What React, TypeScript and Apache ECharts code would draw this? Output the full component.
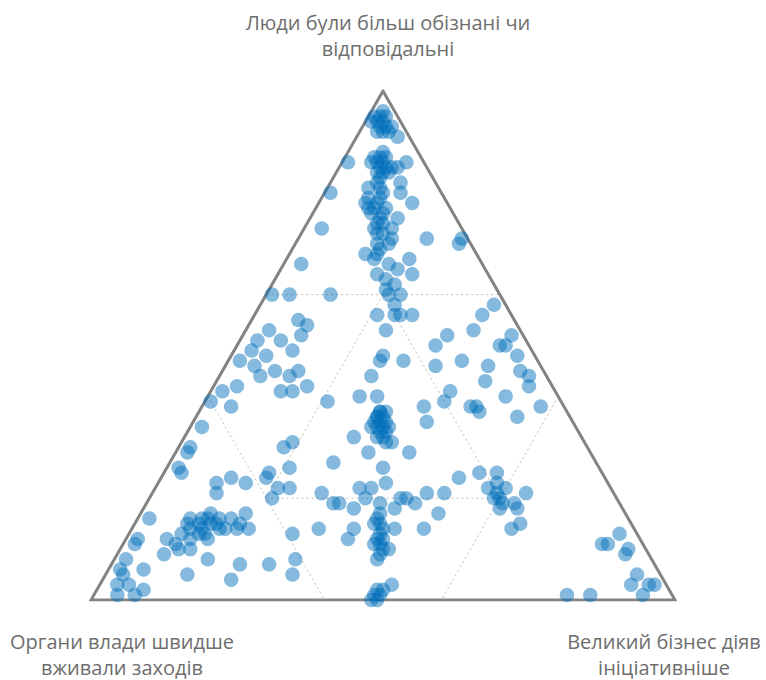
import React, { useEffect, useRef } from "react";
import * as echarts from "echarts";

// Vertex titles (top, bottom-left, bottom-right)
const vertexTitles = [
  "Люди були більш обізнані чи\nвідповідальні",
  "Органи влади швидше\nвживали заходів",
  "Великий бізнес діяв\nініціативніше",
];

// Share (%) pointing to the top vertex: people were more aware / responsible
const peopleAware = [
  95, 95, 94, 94, 93, 92, 92, 91, 87, 88, 86, 86, 85, 85, 84, 84, 86, 86, 80, 73,
  66, 60, 60, 60, 81, 82, 80, 82, 80, 78, 78, 78, 77, 76, 75, 75, 73, 74, 73, 72,
  71, 70, 68, 68, 67, 66, 65, 67, 64, 64, 63, 62, 61, 60, 60, 71, 70, 71,
  56, 56, 56, 56, 53, 58, 52, 53, 56, 58, 55, 54, 52, 53, 51, 49, 51, 49, 48, 46,
  44, 45, 45, 44, 41, 41, 42, 39, 40, 40, 44, 48, 47, 47, 46, 50, 47, 41, 39, 38,
  38, 35, 52, 50, 50, 48, 46, 45, 44, 42, 43, 40, 38, 36, 37, 38,
  37, 37, 35, 35, 34, 33, 32, 31, 34, 36, 32, 29, 29, 31, 31, 30, 27, 26, 23, 26,
  25, 24, 22, 22, 20, 21, 19, 19, 18, 22, 22, 20, 19, 17, 15, 14, 12, 11, 10, 10,
  8, 18, 20, 20, 19, 21, 21, 17, 14, 14, 24, 25, 14, 14, 12, 13, 8, 5, 2, 1,
  0, 3, 25, 22, 23, 22, 20, 19, 19, 18, 15, 14, 21, 18,
  11, 11, 13, 10, 9, 5, 3, 3, 1, 3, 1, 1,
  47, 41, 42, 39, 38, 34, 30, 29, 26, 25, 23, 21, 24, 23, 16, 12, 11, 8, 6, 5,
  3, 3, 1, 1, 2, 6, 12, 9, 11, 10, 15, 16, 13, 12, 13, 16, 17, 15, 14, 12,
  16, 16, 15, 17, 14, 14, 8, 5, 7, 4, 7, 10, 14,
  96, 94, 93, 95, 93, 92, 87, 86, 85, 85, 84, 83, 87,
  81, 79, 77, 76, 74, 72, 70, 69, 79, 77,
  37, 36, 35, 34, 33, 32, 36, 34,
  16, 13, 12, 9, 11, 15, 1, 0, 2,
  15, 14, 16, 13, 14, 15, 20, 21,
];

// Share (%) pointing to the bottom-right vertex: big business acted more proactively
const businessInitiative = [
  2, 3, 1, 3, 5, 3, 5, 7, 5, 6, 5, 7, 9, 10, 7, 9, 11, 1, 1, 3,
  3, 4, 1, 11, 7, 8, 10, 12, 13, 16, 8, 10, 12, 10, 12, 15, 12, 13, 15, 13,
  16, 16, 13, 15, 15, 18, 20, 21, 23, 17, 19, 21, 20, 21, 23, 22, 28, 28,
  21, 24, 25, 27, 24, 23, 35, 39, 39, 40, 8, 10, 10, 4, 3, 3, 7, 10, 6, 5,
  7, 9, 13, 12, 12, 14, 16, 21, 26, 29, 26, 26, 26, 30, 36, 34, 40, 41, 41, 47,
  38, 40, 46, 45, 46, 49, 45, 51, 53, 54, 46, 51, 58, 55, 48, 46,
  31, 32, 31, 32, 32, 34, 33, 35, 33, 31, 29, 33, 40, 36, 19, 18, 28, 37, 39, 21,
  18, 18, 21, 23, 21, 29, 32, 33, 36, 35, 37, 37, 40, 41, 42, 43, 43, 44, 45, 46,
  45, 43, 43, 44, 46, 47, 50, 51, 50, 45, 51, 54, 32, 38, 38, 28, 31, 32, 48, 48,
  49, 50, 57, 57, 58, 60, 59, 61, 63, 61, 66, 65, 64, 64,
  82, 83, 84, 87, 87, 91, 91, 94, 94, 95, 81, 85,
  2, 2, 4, 1, 5, 2, 2, 2, 2, 3, 10, 11, 12, 15, 2, 2, 2, 2, 2, 3,
  3, 5, 4, 7, 8, 6, 7, 8, 9, 10, 9, 9, 9, 11, 12, 12, 12, 13, 15, 14,
  14, 16, 18, 18, 20, 18, 16, 14, 22, 22, 27, 12, 16,
  2, 2, 3, 1, 4, 4, 6, 6, 7, 8, 8, 8, 7,
  9, 10, 10, 12, 12, 14, 14, 15, 8, 9,
  31, 32, 33, 31, 33, 34, 31, 34,
  41, 43, 44, 45, 43, 41, 49, 48, 49,
  11, 12, 11, 13, 10, 14, 60, 59,
];

// Share (%) pointing to the bottom-left vertex: authorities acted faster
const authoritiesFaster = peopleAware.map((a, i) => 100 - a - businessInitiative[i]);

// Dotted guide lines, in ternary shares [top, left, right]
const guideSegments = [
  [[0.6, 0.4, 0], [0.6, 0, 0.4]],
  [[0.4, 0.6, 0], [0, 0.6, 0.4]],
  [[0.4, 0, 0.6], [0, 0.4, 0.6]],
  [[0.6, 0.2, 0.2], [0.2, 0.6, 0.2], [0.2, 0.2, 0.6], [0.6, 0.2, 0.2]],
];

const toXY = (a: number, b: number, c: number) => {
  const s = a + b + c;
  return [(c + a / 2) / s, a / s];
};

export default function App() {
  const ref = useRef<HTMLDivElement>(null);
  useEffect(() => {
    if (!ref.current) return;
    const chart = echarts.init(ref.current, undefined, { renderer: "svg" });
    const points = peopleAware.map((a, i) =>
      toXY(a, authoritiesFaster[i], businessInitiative[i])
    );
    const outline = [
      [0, 1, 0],
      [1, 0, 0],
      [0, 0, 1],
      [0, 1, 0],
      [1, 0, 0],
    ].map((t) => toXY(t[0], t[1], t[2]));

    const guideSeries = guideSegments.map((seg) => ({
      type: "line",
      data: seg.map((t) => toXY(t[0], t[1], t[2])),
      symbol: "none",
      silent: true,
      z: 1,
      lineStyle: { color: "#bdbdbd", width: 1, type: [2, 3] },
    }));

    const labelStyle = {
      fill: "#6e6e6e",
      fontFamily: "Open Sans",
      fontSize: 20,
      lineHeight: 26,
      align: "center",
      verticalAlign: "middle",
    };

    chart.setOption({
      animation: false,
      backgroundColor: "#ffffff",
      grid: { left: 91, top: 91, width: 584, height: 509 },
      xAxis: { type: "value", min: 0, max: 1, show: false },
      yAxis: { type: "value", min: 0, max: 1, show: false },
      series: [
        ...guideSeries,
        {
          type: "line",
          data: outline,
          symbol: "none",
          silent: true,
          z: 2,
          lineStyle: { color: "#838383", width: 3, join: "miter" },
        },
        {
          type: "scatter",
          data: points,
          symbol: "circle",
          symbolSize: 14.5,
          z: 3,
          itemStyle: { color: "rgba(0,110,185,0.6)" },
        },
      ],
      graphic: [
        { type: "text", x: 388, y: 35, style: { ...labelStyle, text: vertexTitles[0] } },
        { type: "text", x: 122, y: 654, style: { ...labelStyle, text: vertexTitles[1] } },
        { type: "text", x: 664, y: 654, style: { ...labelStyle, text: vertexTitles[2] } },
      ],
    });
    return () => chart.dispose();
  }, []);
  return (
    <div
      ref={ref}
      style={{ position: "fixed", left: 0, top: 0, width: 766, height: 680 }}
    />
  );
}
